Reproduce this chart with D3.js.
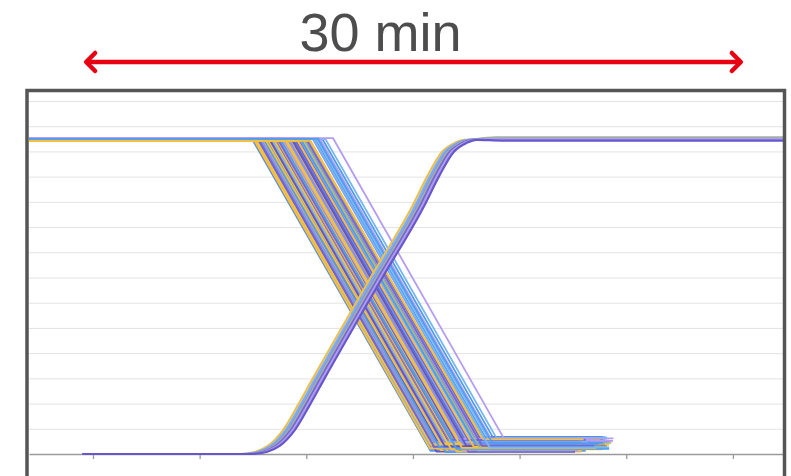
<!DOCTYPE html>
<html><head><meta charset="utf-8">
<script src="https://cdn.jsdelivr.net/npm/d3@7"></script>
<style>html,body{margin:0;padding:0;background:#fff;}svg{display:block;}</style>
</head><body>
<svg id="chart" width="791" height="476"></svg>
<script>
// ---- data (time in minutes, level in arbitrary units) ----
const titleText = "30 min";
const spanStart = -0.37, spanEnd = 30.42;           // annotated 30-min span
const xTicks = [0, 5, 10, 15, 20, 25, 30];
const yGrid = [1,2,3,4,5,6,7,8,9,10,11,12,13,14];

const palette = ["#7465d8","#4f9cf0","#f4c13c","#b59cf0","#8691f2","#94b59a","#77b5f5","#6354c8"];

// falling traces
const fallStart = [7.45,7.5,7.55,7.6,7.68,7.72,7.78,7.83,7.88,7.92,7.97,8.02,8.06,8.1,8.15,8.2,8.24,8.28,8.33,8.37,8.41,8.45,8.5,8.54,8.58,8.62,8.67,8.71,8.75,8.8,8.84,8.88,8.92,8.97,9.01,9.05,9.1,9.14,9.19,9.23,9.28,9.33,9.38,9.43,9.48,9.53,9.58,9.64,9.7,9.76,9.83,9.9,9.97,10.05,10.12,10.2,10.3,10.4,10.5,10.62,10.75,10.9,11.25,
  7.52,7.64,7.75,7.86,7.99,8.12,8.26,8.39,8.52,8.65,8.78,8.9,9.03,9.16,9.3,9.45,9.6,9.73,9.87,10.0,10.16,10.35,10.55];
const fallReach = [15.83,15.74,15.88,15.74,15.94,16.1,15.9,16.05,16.15,15.95,16.3,16.2,16.3,16.15,16.54,16.42,16.3,16.58,16.5,16.72,16.42,16.71,16.7,16.87,16.7,16.86,17.05,16.86,17.04,16.85,17.18,17.1,17.17,17.04,17.38,17.24,17.4,17.16,17.41,17.6,17.4,17.6,17.45,17.76,17.66,17.56,17.87,17.87,18.05,17.85,18.05,17.88,18.28,18.2,18.4,18.25,18.65,18.5,18.7,18.65,18.9,18.9,19.33,
  15.8,15.85,16.0,16.0,16.25,16.3,16.5,16.55,16.8,16.8,17.05,17.05,17.3,17.35,17.5,17.6,17.85,17.9,18.1,18.25,18.3,18.6,18.75];
const fallBottom = [0.12,0.30,0.18,0.45,0.25,0.10,0.55,0.35,0.20,0.62,0.15,0.40,0.28,0.50,0.08,0.33,0.58,0.22,0.44,0.13,0.65,0.27,0.38,0.19,0.52,0.31,0.10,0.47,0.24,0.60,0.16,0.36,0.29,0.55,0.12,0.42,0.21,0.67,0.34,0.09,0.49,0.26,0.57,0.17,0.39,0.63,0.23,0.46,0.14,0.53,0.32,0.68,0.20,0.43,0.27,0.60,0.15,0.50,0.35,0.62,0.44,0.66,0.52,
  0.22,0.38,0.28,0.48,0.26,0.42,0.30,0.50,0.18,0.56,0.20,0.60,0.24,0.40,0.33,0.56,0.29,0.45,0.30,0.32,0.58,0.26,0.40];
const fallEnd = [23.1,23.6,22.8,23.9,23.4,22.6,24.0,23.7,23.2,24.1,22.9,23.5,23.8,24.2,22.4,23.3,23.9,23.0,24.3,22.7,23.6,23.4,24.0,22.5,23.8,23.1,22.9,24.1,23.5,23.7,22.3,24.2,23.3,23.9,22.8,23.6,23.0,24.0,23.4,22.6,24.3,23.2,23.8,22.7,23.5,24.1,23.0,23.7,22.5,24.2,23.3,23.9,22.9,24.0,23.4,23.8,22.6,24.2,23.6,24.4,23.9,24.1,24.38,
  23.5,22.9,24.0,23.3,23.7,22.6,24.1,23.2,23.9,22.8,24.2,23.4,23.6,22.7,24.0,23.1,23.8,22.9,24.1,23.5,23.0,24.2,23.7];
const fallTop = [12.5,12.5,12.49,12.51,12.42,12.5,12.52,12.5,12.49,12.5,12.42,12.51,12.5,12.49,12.5,12.52,12.42,12.5,12.5,12.51,12.49,12.42,12.5,12.5,12.52,12.5,12.42,12.51,12.5,12.49,12.5,12.42,12.5,12.5,12.52,12.5,12.42,12.49,12.5,12.5,12.42,12.51,12.5,12.5,12.52,12.42,12.5,12.5,12.49,12.5,12.42,12.5,12.52,12.51,12.5,12.42,12.5,12.5,12.49,12.52,12.5,12.49,12.53,
  12.5,12.42,12.5,12.5,12.5,12.42,12.5,12.5,12.42,12.5,12.5,12.5,12.42,12.5,12.5,12.5,12.42,12.5,12.5,12.5,12.42,12.5,12.5];
const fallColor = [1,0,4,6,2,7,3,1,5,0,2,4,6,7,1,3,2,0,5,4,6,2,1,7,3,0,2,4,6,5,1,2,7,0,3,1,2,4,6,0,2,5,7,1,3,2,4,0,6,1,2,7,3,5,0,2,4,1,6,3,1,6,3,
  2,2,0,4,1,2,7,6,2,0,1,3,2,4,7,0,2,1,5,0,2,6,1];

// rising traces
const riseLevels = [0,0,0.08,0.32,0.95,1.94,2.94,6.94,9.88,10.99,11.98,12.34,12.46];
const riseTimes = [
  [-0.5,6.89,7.59,8.20,8.91,9.61,10.27,12.98,15.00,15.66,16.36,16.97,17.44,18.61,32.35],
  [-0.5,7.01,7.71,8.32,9.03,9.73,10.39,13.10,15.12,15.78,16.48,17.09,17.56,18.73,32.35],
  [-0.5,7.11,7.81,8.42,9.13,9.83,10.49,13.20,15.22,15.88,16.58,17.19,17.66,18.83,32.35],
  [-0.5,7.17,7.87,8.48,9.19,9.89,10.55,13.26,15.28,15.94,16.64,17.25,17.72,18.89,32.35],
  [-0.5,7.25,7.95,8.56,9.27,9.97,10.63,13.34,15.36,16.02,16.72,17.33,17.80,18.97,32.35],
  [-0.5,7.34,8.04,8.65,9.36,10.06,10.72,13.43,15.45,16.11,16.81,17.42,17.89,19.06,32.35],
  [-0.5,7.44,8.14,8.75,9.46,10.16,10.82,13.53,15.55,16.21,16.91,17.52,17.99,19.16,32.35]
];
const riseTop = [12.48,12.5,12.5,12.56,12.47,12.5,12.43];
const riseColor = ["#ecc050","#77b0f2","#8890f0","#9fb39a","#7565d8","#b09cea","#6657cc"];

(function () {
// ---- layout ----
const svg = d3.select("#chart");
const pL = 29, pR = 783, pT = 101, pB = 454;
const x = d3.scaleLinear().domain([-3, 32.35]).range([pL, pR]);
const y = d3.scaleLinear().domain([0, 14]).range([pB, pT]);

// title
svg.append("text").attr("x", 380.5).attr("y", 51)
  .attr("text-anchor", "middle")
  .attr("font-family", "'Liberation Sans', Arial, sans-serif")
  .attr("font-size", 54).attr("fill", "#4d4d4d").text(titleText);

// red span arrow
const ay = 62, red = "#e60012";
const ax0 = x(spanStart), ax1 = x(spanEnd);
const arrow = svg.append("g").attr("stroke", red).attr("stroke-width", 4.5)
  .attr("fill", "none").attr("stroke-linecap", "round").attr("stroke-linejoin", "round");
arrow.append("line").attr("x1", ax0 + 2).attr("x2", ax1 - 2).attr("y1", ay).attr("y2", ay);
arrow.append("path").attr("d", `M${ax0+10},${ay-9} L${ax0+1},${ay} L${ax0+10},${ay+9}`);
arrow.append("path").attr("d", `M${ax1-10},${ay-9} L${ax1-1},${ay} L${ax1-10},${ay+9}`);

// gridlines
const grid = svg.append("g").attr("transform", `translate(${pL},0)`)
  .call(d3.axisLeft(y).tickValues(yGrid).tickSize(-(pR - pL)).tickFormat(""));
grid.select(".domain").remove();
grid.selectAll(".tick line").attr("stroke", "#e3e3e3").attr("stroke-width", 1);

// x axis
const xa = svg.append("g").attr("transform", `translate(0,${pB})`)
  .call(d3.axisBottom(x).tickValues(xTicks).tickSize(5).tickSizeOuter(0).tickFormat(""));
xa.select(".domain").attr("stroke", "#9a9a9a").attr("stroke-width", 1.3);
xa.selectAll(".tick line").attr("stroke", "#9a9a9a").attr("stroke-width", 1.3);

const line = d3.line().x(d => x(d[0])).y(d => y(d[1]));
const smooth = d3.line().x(d => x(d[0])).y(d => y(d[1])).curve(d3.curveMonotoneX);

const plot = svg.append("g");
// falling traces
fallStart.forEach((s, i) => {
  const pts = [[-3, fallTop[i]], [s, fallTop[i]], [fallReach[i], fallBottom[i]], [fallEnd[i], fallBottom[i]]];
  plot.append("path").attr("d", line(pts)).attr("fill", "none")
    .attr("stroke", palette[fallColor[i]]).attr("stroke-width", 1.8).attr("stroke-linejoin", "round");
});
// rising traces
riseTimes.forEach((ts, i) => {
  const pts = ts.map((t, j) => [t, j < riseLevels.length ? riseLevels[j] : riseTop[i]]);
  plot.append("path").attr("d", smooth(pts)).attr("fill", "none")
    .attr("stroke", riseColor[i]).attr("stroke-width", 2.2);
});

// frame
svg.append("rect").attr("x", 27).attr("y", 90.5).attr("width", 757.5).attr("height", 400)
  .attr("fill", "none").attr("stroke", "#555").attr("stroke-width", 3.5);
})();
</script>
</body></html>
